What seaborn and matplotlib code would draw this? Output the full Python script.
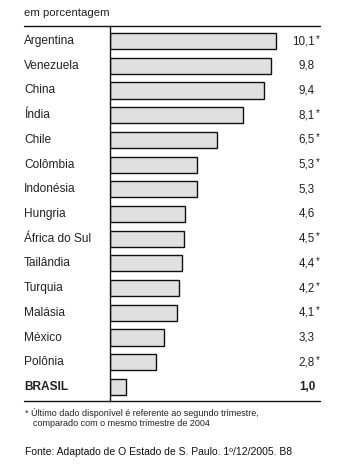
import matplotlib
matplotlib.use("Agg")
import matplotlib.pyplot as plt
import seaborn as sns
import pandas as pd
from matplotlib.lines import Line2D
from matplotlib.transforms import blended_transform_factory

paises = ["Argentina", "Venezuela", "China", "Índia", "Chile", "Colômbia",
          "Indonésia", "Hungria", "África do Sul", "Tailândia", "Turquia",
          "Malásia", "México", "Polônia", "BRASIL"]
valores = [10.1, 9.8, 9.4, 8.1, 6.5, 5.3, 5.3, 4.6, 4.5, 4.4, 4.2, 4.1, 3.3, 2.8, 1.0]
asterisco = [True, False, False, True, True, True, False, False, True, True,
             True, True, False, True, False]

df = pd.DataFrame({"pais": paises, "valor": valores})

sns.set_style("white")
plt.rcParams["font.family"] = ["Liberation Sans", "DejaVu Sans"]

W, H = 342, 470
fig = plt.figure(figsize=(W / 100, H / 100), dpi=100)
fig.patch.set_facecolor("white")

def fx(px):
    return px / W

def fy(py):
    return 1 - py / H

ax_left, ax_right, ax_top, ax_bot = 110, 320, 26, 401
ax = fig.add_axes([fx(ax_left), fy(ax_bot), fx(ax_right - ax_left), (ax_bot - ax_top) / H])

sns.barplot(data=df, x="valor", y="pais", orient="h", color="#e0e0e0",
            edgecolor="#111111", linewidth=1.0, width=0.65, saturation=1, ax=ax)

ax.set_xlim(0, (ax_right - ax_left) / 16.4)
ax.set_ylim(14.57, -0.61)
ax.set_xlabel("")
ax.set_ylabel("")
ax.set_xticks([])
ax.set_yticks([])
for s in ["top", "right", "bottom"]:
    ax.spines[s].set_visible(False)
ax.spines["left"].set_color("#111111")
ax.spines["left"].set_linewidth(1.0)

tr = blended_transform_factory(fig.transFigure, ax.transData)
txtcol = "#222222"
for i, (p, v, a) in enumerate(zip(paises, valores, asterisco)):
    bold = p == "BRASIL"
    ax.text(fx(24), i, p, transform=tr, ha="left", va="center", fontsize=8.6,
            color=txtcol, fontweight="bold" if bold else "normal")
    num = f"{v:.1f}".replace(".", ",")
    ax.text(fx(315), i, num, transform=tr, ha="right", va="center", fontsize=8.4,
            color=txtcol, fontweight="bold" if bold else "normal")
    if a:
        ax.text(fx(315.5), i - 0.1, "*", transform=tr, ha="left", va="center",
                fontsize=7, color=txtcol)

# top and bottom rules
for py in (ax_top, ax_bot):
    fig.add_artist(Line2D([fx(24), fx(320)], [fy(py), fy(py)],
                          transform=fig.transFigure, color="#111111", linewidth=1.0))

fig.text(fx(24), fy(13), "em porcentagem", ha="left", va="center", fontsize=8.2, color=txtcol)
fig.text(fx(25), fy(413), "* Último dado disponível é referente ao segundo trimestre,",
         ha="left", va="center", fontsize=6.5, color=txtcol)
fig.text(fx(33), fy(424), "comparado com o mesmo trimestre de 2004",
         ha="left", va="center", fontsize=6.5, color=txtcol)
fig.text(fx(25), fy(452), "Fonte: Adaptado de O Estado de S. Paulo. 1º/12/2005. B8",
         ha="left", va="center", fontsize=7.5, color="#111111")

fig.savefig("out.png", dpi=100, facecolor="white")
